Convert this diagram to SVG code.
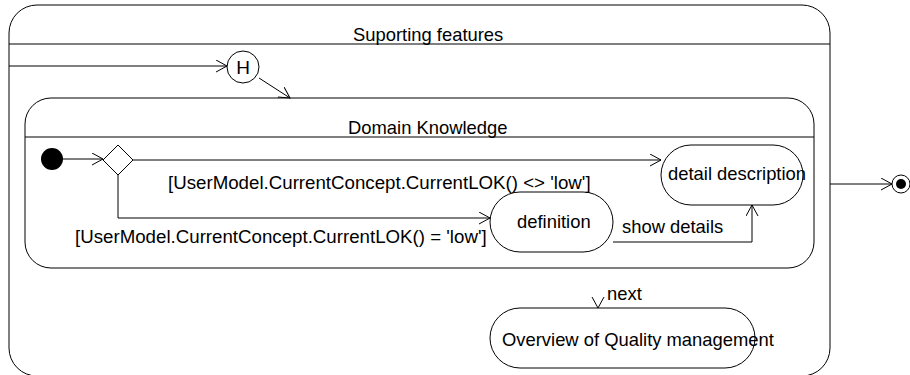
<svg xmlns="http://www.w3.org/2000/svg" width="910" height="375" viewBox="0 0 910 375">
<defs>
<style>
.box{fill:#fff;stroke:#000;stroke-width:1}
.ln{fill:none;stroke:#000;stroke-width:1}
.t{font-family:"Liberation Sans",Arial,sans-serif;font-size:18.4px;fill:#000}
.g{font-size:18.7px}
.c{text-anchor:middle}
</style>
<marker id="arr" markerUnits="userSpaceOnUse" markerWidth="14" markerHeight="14" refX="11" refY="6" orient="auto" viewBox="0 0 14 14">
<path d="M0,0 L11,6 L0,12" fill="none" stroke="#000" stroke-width="1"/>
</marker>
</defs>
<rect width="910" height="375" fill="#fff"/>
<g id="supporting-features">
<rect class="box" x="9" y="5" width="821" height="371" rx="28"/>
<line class="ln" x1="9" y1="44" x2="830" y2="44"/>
<text class="t" x="353" y="41">Suporting features</text>
</g>
<g id="domain-knowledge">
<rect class="box" x="25" y="98" width="789" height="170" rx="26"/>
<line class="ln" x1="25" y1="137" x2="814" y2="137"/>
<text class="t" x="348" y="134">Domain Knowledge</text>
</g>
<g id="history">
<circle class="box" cx="243" cy="67" r="16"/>
<text class="t c" x="243" y="74" style="font-size:19px">H</text>
</g>
<g id="initial">
<circle cx="52" cy="159" r="11" fill="#000"/>
</g>
<g id="decision">
<path class="box" d="M118,145 L133,160 L118,175 L103,160 Z"/>
</g>
<g id="definition">
<rect class="box" x="490" y="192" width="123" height="60" rx="30"/>
<text class="t" x="517" y="228">definition</text>
</g>
<g id="detail-description">
<rect class="box" x="661" y="145" width="142" height="60" rx="30"/>
<text class="t" x="668" y="180">detail description</text>
</g>
<g id="overview">
<rect class="box" x="490" y="308" width="265" height="60" rx="30"/>
<text class="t" x="502" y="346">Overview of Quality management</text>
</g>
<g id="final">
<circle class="box" cx="901" cy="184" r="9"/>
<circle cx="901" cy="184" r="5" fill="#000"/>
</g>
<g id="connectors">
<path class="ln" d="M9,66 L227,66" marker-end="url(#arr)"/>
<path class="ln" d="M259,78 L290,98" marker-end="url(#arr)"/>
<path class="ln" d="M63,159 L103,159" marker-end="url(#arr)"/>
<path class="ln" d="M133,160 L661,160" marker-end="url(#arr)"/>
<path class="ln" d="M118,175 L118,218 L490,218" marker-end="url(#arr)"/>
<path class="ln" d="M613,242 L752,242 L752,205" marker-end="url(#arr)"/>
<path class="ln" d="M830,184 L892,184" marker-end="url(#arr)"/>
<path class="ln" d="M592,297 L598,308 L604,297"/>
<text class="t g" x="168" y="189">[UserModel.CurrentConcept.CurrentLOK() &lt;&gt; 'low']</text>
<text class="t g" x="75" y="243">[UserModel.CurrentConcept.CurrentLOK() = 'low']</text>
<text class="t" x="622" y="233">show details</text>
<text class="t" x="607" y="300">next</text>
</g>
</svg>
